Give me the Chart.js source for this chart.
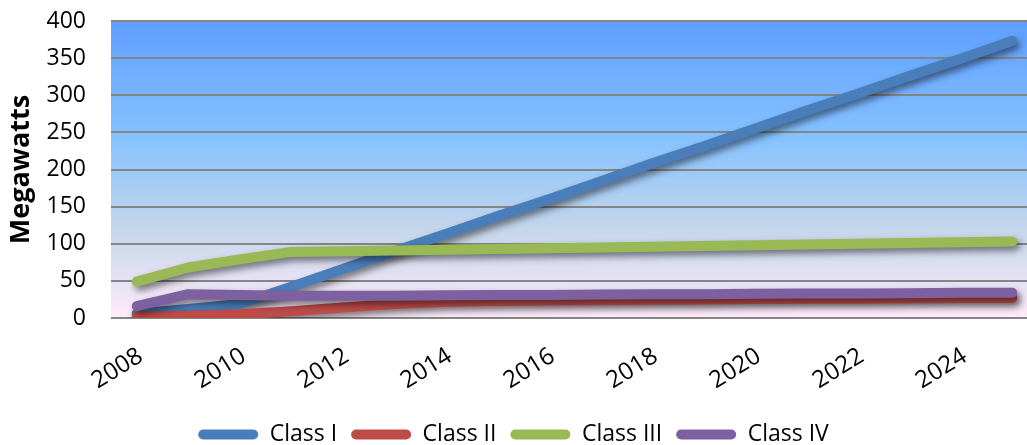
<!DOCTYPE html>
<html>
<head>
<meta charset="utf-8">
<script src="https://cdn.jsdelivr.net/npm/chart.js@4.4.1/dist/chart.umd.min.js"></script>
<style>
  html, body { margin: 0; padding: 0; background: #ffffff; overflow: hidden; }
  #wrap { width: 1027px; height: 445px; position: relative; }
</style>
</head>
<body>
<div id="wrap"><canvas id="c" width="1027" height="445"></canvas></div>
<script>
// ---- data ----
const years = [2008, 2009, 2010, 2011, 2012, 2013, 2014, 2015, 2016, 2017, 2018, 2019, 2020, 2021, 2022, 2023, 2024, 2025];
const tickYears = [2008, 2010, 2012, 2014, 2016, 2018, 2020, 2022, 2024];
const seriesNames = ['Class I', 'Class II', 'Class III', 'Class IV'];
const classI   = [6, 12, 19, 42, 66, 90, 113, 137, 160, 184, 208, 231, 255, 279, 302, 326, 349, 373];
const classII  = [2, 3, 5, 9, 14, 19, 22, 23, 23.5, 24, 24.5, 25, 25.5, 26, 26, 26.5, 27, 27];
const classIII = [49, 68, 79, 89, 90, 91, 92, 93, 94, 95, 96, 97, 98, 99, 100, 101, 102, 103];
const classIV  = [16, 32, 31, 30, 30, 30, 30.5, 31, 31, 31.5, 32, 32, 32.5, 33, 33, 33.5, 34, 34];
const yTicks = [0, 50, 100, 150, 200, 250, 300, 350, 400];
const colors = ['#4A7EBB', '#BE4B48', '#98B954', '#7D60A0'];

const FONT = '"Open Sans", Lato, "DejaVu Sans", sans-serif';

const toPts = arr => years.map((yr, i) => ({ x: yr, y: arr[i] }));
const seriesData = [classI, classII, classIII, classIV];

const datasets = seriesNames.map((name, i) => ({
  label: name,
  data: toPts(seriesData[i]),
  borderColor: colors[i],
  backgroundColor: colors[i],
  borderWidth: 10,
  borderCapStyle: 'round',
  borderJoinStyle: 'round',
  pointRadius: 0,
  pointHoverRadius: 0,
  tension: 0,
  fill: false,
  order: seriesNames.length - i
}));

const bgPlugin = {
  id: 'plotBg',
  beforeDraw(chart) {
    const { ctx, chartArea: a } = chart;
    const g = ctx.createLinearGradient(0, a.top, 0, a.bottom);
    g.addColorStop(0, '#5E9EFF');
    g.addColorStop(0.39, '#85C2FF');
    g.addColorStop(0.70, '#C4D6EB');
    g.addColorStop(1, '#FFEBFA');
    ctx.save();
    ctx.fillStyle = g;
    ctx.fillRect(a.left, a.top, a.right - a.left, a.bottom - a.top);
    ctx.restore();
  }
};

const shadowPlugin = {
  id: 'lineShadow',
  beforeDatasetDraw(chart) {
    const ctx = chart.ctx;
    ctx.save();
    ctx.shadowColor = 'rgba(0,0,0,0.5)';
    ctx.shadowBlur = 7;
    ctx.shadowOffsetX = 3;
    ctx.shadowOffsetY = 4;
  },
  afterDatasetDraw(chart) {
    chart.ctx.restore();
  }
};

new Chart(document.getElementById('c'), {
  type: 'line',
  data: { datasets },
  plugins: [bgPlugin, shadowPlugin],
  options: {
    responsive: false,
    animation: false,
    events: [],
    layout: { padding: { top: 21, right: 0, bottom: -11, left: 0 } },
    scales: {
      x: {
        type: 'linear',
        min: 2007.5,
        max: 2025.286,
        afterBuildTicks: s => { s.ticks = tickYears.map(v => ({ value: v })); },
        afterFit: s => { s.height = 91; },
        grid: { display: false, drawTicks: false },
        border: { display: false },
        ticks: {
          autoSkip: false,
          minRotation: 32,
          maxRotation: 32,
          padding: 24,
          labelOffset: 4,
          color: '#000',
          font: { family: FONT, size: 24 },
          callback: v => String(v)
        }
      },
      y: {
        min: 0,
        max: 400,
        afterBuildTicks: s => { s.ticks = yTicks.map(v => ({ value: v })); },
        afterFit: s => { s.width = 111; },
        grid: { color: '#858585', lineWidth: 2, drawTicks: true, tickLength: 20, tickColor: 'rgba(0,0,0,0)' },
        border: { display: false },
        ticks: {
          padding: 5,
          color: '#000',
          font: { family: FONT, size: 23 }
        },
        title: {
          display: true,
          text: 'Megawatts',
          color: '#000',
          font: { family: FONT, size: 27, weight: 'bold' },
          padding: { top: 5, bottom: 0 }
        }
      }
    },
    plugins: {
      tooltip: { enabled: false },
      legend: {
        position: 'bottom',
        labels: {
          boxWidth: 60,
          boxHeight: 10,
          useBorderRadius: true,
          borderRadius: 5,
          padding: 14,
          color: '#000',
          font: { family: FONT, size: 23 },
          sort: (a, b) => a.datasetIndex - b.datasetIndex,
          generateLabels: chart => {
            const items = Chart.defaults.plugins.legend.labels.generateLabels(chart);
            return items.map(it => Object.assign(it, { lineWidth: 0, strokeStyle: 'rgba(0,0,0,0)' }));
          }
        }
      }
    }
  }
});
</script>
</body>
</html>
